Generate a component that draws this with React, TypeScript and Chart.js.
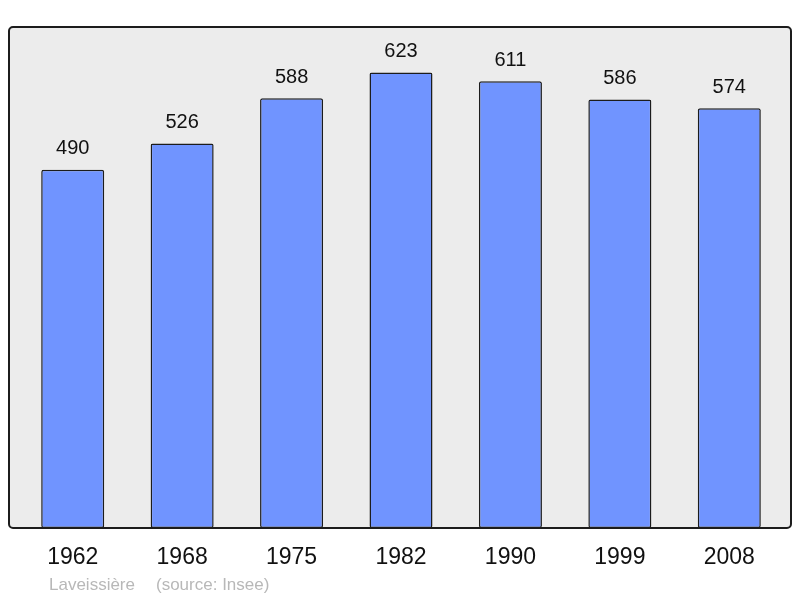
import React, { useEffect, useRef } from "react";
import { Chart, registerables } from "chart.js";

Chart.register(...registerables);

const years = ["1962", "1968", "1975", "1982", "1990", "1999", "2008"];
const population = [490, 526, 588, 623, 611, 586, 574];
const townName = "Laveissière";
const sourceText = "(source: Insee)";

const FONT = "'Liberation Sans', Arial, sans-serif";

function roundRectPath(ctx: CanvasRenderingContext2D, x: number, y: number, w: number, h: number, r: number) {
  ctx.beginPath();
  ctx.moveTo(x + r, y);
  ctx.lineTo(x + w - r, y);
  ctx.arcTo(x + w, y, x + w, y + r, r);
  ctx.lineTo(x + w, y + h - r);
  ctx.arcTo(x + w, y + h, x + w - r, y + h, r);
  ctx.lineTo(x + r, y + h);
  ctx.arcTo(x, y + h, x, y + h - r, r);
  ctx.lineTo(x, y + r);
  ctx.arcTo(x, y, x + r, y, r);
  ctx.closePath();
}

const framePlugin = {
  id: "frame",
  beforeDatasetsDraw(chart: any) {
    const { ctx, chartArea } = chart;
    ctx.save();
    roundRectPath(ctx, 9, chartArea.top, 782, chartArea.bottom - chartArea.top, 4);
    ctx.fillStyle = "#ececec";
    ctx.fill();
    ctx.restore();
  },
  afterDatasetsDraw(chart: any) {
    const { ctx, chartArea } = chart;
    ctx.save();
    roundRectPath(ctx, 9, chartArea.top, 782, chartArea.bottom - chartArea.top, 4);
    ctx.lineWidth = 2;
    ctx.strokeStyle = "#1c1c1c";
    ctx.stroke();
    // value labels
    const meta = chart.getDatasetMeta(0);
    ctx.fillStyle = "#111";
    ctx.font = `20px ${FONT}`;
    ctx.textAlign = "center";
    ctx.textBaseline = "middle";
    meta.data.forEach((bar: any, i: number) => {
      ctx.fillText(String(population[i]), bar.x, bar.y - 21);
    });
    // footer
    ctx.fillStyle = "#b8b8b8";
    ctx.font = `17px ${FONT}`;
    ctx.textAlign = "left";
    ctx.fillText(townName, 49, 585);
    ctx.fillText(sourceText, 156, 585);
    ctx.restore();
  },
};

export default function App() {
  const ref = useRef<HTMLCanvasElement>(null);
  useEffect(() => {
    if (!ref.current) return;
    const chart = new Chart(ref.current, {
      type: "bar",
      data: {
        labels: years,
        datasets: [
          {
            data: population,
            backgroundColor: "#7094ff",
            borderColor: "#1c1c1c",
            borderWidth: 1.5,
            borderRadius: 2,
            borderSkipped: false,
            barPercentage: 0.576,
            categoryPercentage: 1,
          },
        ],
      },
      options: {
        responsive: false,
        animation: false,
        layout: { padding: { left: 18, right: 16, top: 27, bottom: 0 } },
        plugins: { legend: { display: false }, tooltip: { enabled: false }, title: { display: false } },
        scales: {
          x: {
            grid: { display: false, drawTicks: false },
            border: { display: false },
            ticks: { color: "#111", font: { family: FONT, size: 23 }, padding: 16, maxRotation: 0 },
            afterFit: (scale: any) => {
              scale.height = 70;
            },
          },
          y: { display: false, min: 0, max: 685.3 },
        },
      },
      plugins: [framePlugin],
    });
    return () => chart.destroy();
  }, []);
  return (
    <div style={{ position: "absolute", left: 0, top: 0, width: 800, height: 598 }}>
      <canvas ref={ref} width={800} height={598} />
    </div>
  );
}
